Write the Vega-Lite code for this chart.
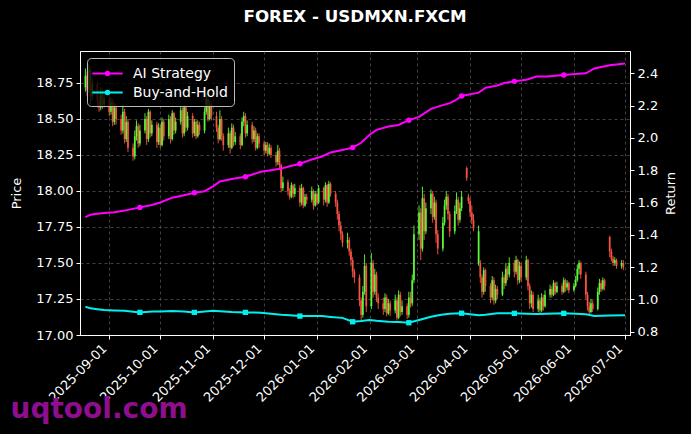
{
  "$schema": "https://vega.github.io/schema/vega-lite/v6.json",
  "autosize": {"type": "none"},
  "padding": {"left": 80, "top": 51, "right": 61, "bottom": 99},
  "width": 550,
  "height": 284,
  "background": "black",
  "title": {
    "text": "FOREX - USDMXN.FXCM",
    "color": "white",
    "font": "DejaVu Sans",
    "fontSize": 16.7,
    "fontWeight": "bold",
    "baseline": "alphabetic",
    "offset": 12
  },
  "config": {
    "view": {"stroke": "white", "strokeWidth": 1},
    "font": "DejaVu Sans",
    "axis": {
      "labelColor": "white",
      "titleColor": "white",
      "domainColor": "white",
      "tickColor": "white",
      "labelFontSize": 13,
      "titleFontSize": 13,
      "titleFontWeight": "normal",
      "labelFont": "DejaVu Sans",
      "titleFont": "DejaVu Sans",
      "gridColor": "#6a6a6a",
      "gridDash": [3, 3],
      "gridOpacity": 0.6,
      "tickSize": 4,
      "labelPadding": 3
    }
  },
  "datasets": {
    "px": [
      {"d":"2025-08-18","o":18.72,"h":18.85,"l":18.69,"c":18.80},
      {"d":"2025-08-19","o":18.80,"h":18.83,"l":18.66,"c":18.70},
      {"d":"2025-08-20","o":18.70,"h":18.88,"l":18.68,"c":18.84},
      {"d":"2025-08-21","o":18.84,"h":18.86,"l":18.60,"c":18.66},
      {"d":"2025-08-22","o":18.66,"h":18.78,"l":18.63,"c":18.74},
      {"d":"2025-08-25","o":18.74,"h":18.76,"l":18.58,"c":18.62},
      {"d":"2025-08-26","o":18.62,"h":18.66,"l":18.55,"c":18.58},
      {"d":"2025-08-27","o":18.58,"h":18.72,"l":18.56,"c":18.68},
      {"d":"2025-08-28","o":18.68,"h":18.71,"l":18.57,"c":18.60},
      {"d":"2025-08-29","o":18.60,"h":18.68,"l":18.58,"c":18.64},
      {"d":"2025-09-01","o":18.64,"h":18.67,"l":18.52,"c":18.55},
      {"d":"2025-09-02","o":18.55,"h":18.65,"l":18.53,"c":18.62},
      {"d":"2025-09-03","o":18.62,"h":18.64,"l":18.45,"c":18.48},
      {"d":"2025-09-04","o":18.48,"h":18.61,"l":18.46,"c":18.58},
      {"d":"2025-09-05","o":18.58,"h":18.60,"l":18.46,"c":18.50},
      {"d":"2025-09-08","o":18.50,"h":18.53,"l":18.39,"c":18.42},
      {"d":"2025-09-09","o":18.42,"h":18.60,"l":18.40,"c":18.55},
      {"d":"2025-09-10","o":18.55,"h":18.57,"l":18.33,"c":18.36},
      {"d":"2025-09-11","o":18.36,"h":18.52,"l":18.34,"c":18.48},
      {"d":"2025-09-12","o":18.48,"h":18.50,"l":18.27,"c":18.30},
      {"d":"2025-09-15","o":18.30,"h":18.33,"l":18.21,"c":18.24},
      {"d":"2025-09-16","o":18.24,"h":18.42,"l":18.22,"c":18.38},
      {"d":"2025-09-17","o":18.38,"h":18.49,"l":18.35,"c":18.45},
      {"d":"2025-09-18","o":18.45,"h":18.47,"l":18.30,"c":18.33},
      {"d":"2025-09-19","o":18.33,"h":18.46,"l":18.31,"c":18.42},
      {"d":"2025-09-22","o":18.42,"h":18.54,"l":18.40,"c":18.50},
      {"d":"2025-09-23","o":18.50,"h":18.52,"l":18.32,"c":18.36},
      {"d":"2025-09-24","o":18.36,"h":18.57,"l":18.34,"c":18.55},
      {"d":"2025-09-25","o":18.55,"h":18.56,"l":18.37,"c":18.40},
      {"d":"2025-09-26","o":18.40,"h":18.49,"l":18.38,"c":18.46},
      {"d":"2025-09-29","o":18.46,"h":18.48,"l":18.30,"c":18.34},
      {"d":"2025-09-30","o":18.34,"h":18.47,"l":18.32,"c":18.44},
      {"d":"2025-10-01","o":18.44,"h":18.46,"l":18.30,"c":18.32},
      {"d":"2025-10-02","o":18.32,"h":18.51,"l":18.31,"c":18.48},
      {"d":"2025-10-03","o":18.48,"h":18.50,"l":18.35,"c":18.38},
      {"d":"2025-10-06","o":18.38,"h":18.53,"l":18.36,"c":18.50},
      {"d":"2025-10-07","o":18.50,"h":18.52,"l":18.33,"c":18.36},
      {"d":"2025-10-08","o":18.36,"h":18.56,"l":18.35,"c":18.54},
      {"d":"2025-10-09","o":18.54,"h":18.55,"l":18.39,"c":18.42},
      {"d":"2025-10-10","o":18.42,"h":18.51,"l":18.40,"c":18.48},
      {"d":"2025-10-13","o":18.48,"h":18.59,"l":18.46,"c":18.56},
      {"d":"2025-10-14","o":18.56,"h":18.58,"l":18.37,"c":18.40},
      {"d":"2025-10-15","o":18.40,"h":18.60,"l":18.38,"c":18.58},
      {"d":"2025-10-16","o":18.58,"h":18.59,"l":18.41,"c":18.44},
      {"d":"2025-10-17","o":18.44,"h":18.55,"l":18.42,"c":18.52},
      {"d":"2025-10-20","o":18.52,"h":18.54,"l":18.37,"c":18.40},
      {"d":"2025-10-21","o":18.40,"h":18.50,"l":18.38,"c":18.48},
      {"d":"2025-10-22","o":18.48,"h":18.49,"l":18.36,"c":18.38},
      {"d":"2025-10-23","o":18.38,"h":18.49,"l":18.37,"c":18.46},
      {"d":"2025-10-24","o":18.46,"h":18.48,"l":18.39,"c":18.42},
      {"d":"2025-10-27","o":18.42,"h":18.58,"l":18.40,"c":18.55},
      {"d":"2025-10-28","o":18.55,"h":18.68,"l":18.53,"c":18.64},
      {"d":"2025-10-29","o":18.64,"h":18.66,"l":18.48,"c":18.50},
      {"d":"2025-10-30","o":18.50,"h":18.63,"l":18.49,"c":18.60},
      {"d":"2025-10-31","o":18.60,"h":18.62,"l":18.49,"c":18.52},
      {"d":"2025-11-03","o":18.52,"h":18.55,"l":18.41,"c":18.44},
      {"d":"2025-11-04","o":18.44,"h":18.46,"l":18.33,"c":18.36},
      {"d":"2025-11-05","o":18.36,"h":18.56,"l":18.35,"c":18.50},
      {"d":"2025-11-06","o":18.50,"h":18.52,"l":18.35,"c":18.38},
      {"d":"2025-11-07","o":18.38,"h":18.40,"l":18.28,"c":18.32},
      {"d":"2025-11-10","o":18.32,"h":18.44,"l":18.30,"c":18.40},
      {"d":"2025-11-11","o":18.40,"h":18.42,"l":18.26,"c":18.30},
      {"d":"2025-11-12","o":18.30,"h":18.47,"l":18.29,"c":18.44},
      {"d":"2025-11-13","o":18.44,"h":18.46,"l":18.31,"c":18.34},
      {"d":"2025-11-14","o":18.34,"h":18.41,"l":18.32,"c":18.38},
      {"d":"2025-11-17","o":18.38,"h":18.40,"l":18.29,"c":18.32},
      {"d":"2025-11-18","o":18.32,"h":18.51,"l":18.31,"c":18.48},
      {"d":"2025-11-19","o":18.48,"h":18.55,"l":18.45,"c":18.52},
      {"d":"2025-11-20","o":18.52,"h":18.54,"l":18.37,"c":18.40},
      {"d":"2025-11-21","o":18.40,"h":18.49,"l":18.38,"c":18.46},
      {"d":"2025-11-24","o":18.46,"h":18.48,"l":18.33,"c":18.36},
      {"d":"2025-11-25","o":18.36,"h":18.45,"l":18.34,"c":18.42},
      {"d":"2025-11-26","o":18.42,"h":18.44,"l":18.28,"c":18.30},
      {"d":"2025-11-27","o":18.30,"h":18.40,"l":18.29,"c":18.38},
      {"d":"2025-11-28","o":18.38,"h":18.40,"l":18.30,"c":18.33},
      {"d":"2025-12-01","o":18.33,"h":18.35,"l":18.25,"c":18.28},
      {"d":"2025-12-02","o":18.28,"h":18.34,"l":18.26,"c":18.32},
      {"d":"2025-12-03","o":18.32,"h":18.34,"l":18.24,"c":18.26},
      {"d":"2025-12-04","o":18.26,"h":18.33,"l":18.25,"c":18.30},
      {"d":"2025-12-05","o":18.30,"h":18.32,"l":18.23,"c":18.25},
      {"d":"2025-12-08","o":18.25,"h":18.27,"l":18.17,"c":18.20},
      {"d":"2025-12-09","o":18.20,"h":18.32,"l":18.18,"c":18.28},
      {"d":"2025-12-10","o":18.28,"h":18.30,"l":18.16,"c":18.18},
      {"d":"2025-12-11","o":18.18,"h":18.19,"l":17.99,"c":18.02},
      {"d":"2025-12-12","o":18.02,"h":18.10,"l":18.00,"c":18.06},
      {"d":"2025-12-15","o":18.06,"h":18.08,"l":17.97,"c":18.00},
      {"d":"2025-12-16","o":18.00,"h":18.02,"l":17.94,"c":17.96},
      {"d":"2025-12-17","o":17.96,"h":18.06,"l":17.95,"c":18.04},
      {"d":"2025-12-18","o":18.04,"h":18.05,"l":17.95,"c":17.98},
      {"d":"2025-12-19","o":17.98,"h":18.05,"l":17.96,"c":18.02},
      {"d":"2025-12-22","o":18.02,"h":18.04,"l":17.89,"c":17.92},
      {"d":"2025-12-23","o":17.92,"h":18.05,"l":17.90,"c":18.02},
      {"d":"2025-12-24","o":18.02,"h":18.03,"l":17.88,"c":17.90},
      {"d":"2025-12-25","o":17.90,"h":17.98,"l":17.89,"c":17.96},
      {"d":"2025-12-26","o":17.96,"h":17.98,"l":17.91,"c":17.94},
      {"d":"2025-12-29","o":17.94,"h":18.03,"l":17.92,"c":18.00},
      {"d":"2025-12-30","o":18.00,"h":18.01,"l":17.87,"c":17.90},
      {"d":"2025-12-31","o":17.90,"h":18.00,"l":17.89,"c":17.98},
      {"d":"2026-01-01","o":17.98,"h":17.99,"l":17.90,"c":17.92},
      {"d":"2026-01-02","o":17.92,"h":18.04,"l":17.91,"c":18.02},
      {"d":"2026-01-05","o":18.02,"h":18.03,"l":17.90,"c":17.94},
      {"d":"2026-01-06","o":17.94,"h":18.06,"l":17.92,"c":18.04},
      {"d":"2026-01-07","o":18.04,"h":18.05,"l":17.89,"c":17.92},
      {"d":"2026-01-08","o":17.92,"h":18.07,"l":17.91,"c":18.05},
      {"d":"2026-01-09","o":18.05,"h":18.06,"l":17.96,"c":17.98},
      {"d":"2026-01-12","o":17.98,"h":18.00,"l":17.89,"c":17.92},
      {"d":"2026-01-13","o":17.92,"h":17.94,"l":17.80,"c":17.84},
      {"d":"2026-01-14","o":17.84,"h":17.86,"l":17.72,"c":17.76},
      {"d":"2026-01-15","o":17.76,"h":17.79,"l":17.66,"c":17.70},
      {"d":"2026-01-16","o":17.70,"h":17.72,"l":17.61,"c":17.64},
      {"d":"2026-01-19","o":17.64,"h":17.71,"l":17.60,"c":17.66},
      {"d":"2026-01-20","o":17.66,"h":17.68,"l":17.55,"c":17.58},
      {"d":"2026-01-21","o":17.58,"h":17.60,"l":17.48,"c":17.52},
      {"d":"2026-01-22","o":17.52,"h":17.54,"l":17.40,"c":17.44},
      {"d":"2026-01-23","o":17.44,"h":17.46,"l":17.36,"c":17.40},
      {"d":"2026-01-26","o":17.40,"h":17.42,"l":17.20,"c":17.24},
      {"d":"2026-01-27","o":17.24,"h":17.26,"l":17.10,"c":17.14},
      {"d":"2026-01-28","o":17.14,"h":17.34,"l":17.12,"c":17.30},
      {"d":"2026-01-29","o":17.30,"h":17.56,"l":17.28,"c":17.48},
      {"d":"2026-01-30","o":17.48,"h":17.50,"l":17.16,"c":17.20},
      {"d":"2026-02-02","o":17.20,"h":17.57,"l":17.18,"c":17.50},
      {"d":"2026-02-03","o":17.50,"h":17.52,"l":17.26,"c":17.30},
      {"d":"2026-02-04","o":17.30,"h":17.46,"l":17.28,"c":17.42},
      {"d":"2026-02-05","o":17.42,"h":17.44,"l":17.23,"c":17.26},
      {"d":"2026-02-06","o":17.26,"h":17.29,"l":17.18,"c":17.22},
      {"d":"2026-02-09","o":17.22,"h":17.26,"l":17.14,"c":17.18},
      {"d":"2026-02-10","o":17.18,"h":17.29,"l":17.16,"c":17.26},
      {"d":"2026-02-11","o":17.26,"h":17.28,"l":17.13,"c":17.15},
      {"d":"2026-02-12","o":17.15,"h":17.25,"l":17.14,"c":17.22},
      {"d":"2026-02-13","o":17.22,"h":17.24,"l":17.13,"c":17.17},
      {"d":"2026-02-16","o":17.17,"h":17.28,"l":17.15,"c":17.24},
      {"d":"2026-02-17","o":17.24,"h":17.26,"l":17.10,"c":17.12},
      {"d":"2026-02-18","o":17.12,"h":17.31,"l":17.11,"c":17.28},
      {"d":"2026-02-19","o":17.28,"h":17.30,"l":17.13,"c":17.16},
      {"d":"2026-02-20","o":17.16,"h":17.24,"l":17.14,"c":17.20},
      {"d":"2026-02-23","o":17.20,"h":17.22,"l":17.11,"c":17.14},
      {"d":"2026-02-24","o":17.14,"h":17.30,"l":17.12,"c":17.26},
      {"d":"2026-02-25","o":17.26,"h":17.30,"l":17.19,"c":17.22},
      {"d":"2026-02-26","o":17.22,"h":17.42,"l":17.20,"c":17.38},
      {"d":"2026-02-27","o":17.38,"h":17.76,"l":17.36,"c":17.70},
      {"d":"2026-03-02","o":17.70,"h":17.90,"l":17.66,"c":17.85},
      {"d":"2026-03-03","o":17.85,"h":17.88,"l":17.52,"c":17.60},
      {"d":"2026-03-04","o":17.60,"h":18.03,"l":17.58,"c":17.95},
      {"d":"2026-03-05","o":17.95,"h":17.98,"l":17.66,"c":17.72},
      {"d":"2026-03-06","o":17.72,"h":17.92,"l":17.70,"c":17.88},
      {"d":"2026-03-09","o":17.88,"h":18.01,"l":17.84,"c":17.98},
      {"d":"2026-03-10","o":17.98,"h":18.00,"l":17.78,"c":17.82},
      {"d":"2026-03-11","o":17.82,"h":17.96,"l":17.80,"c":17.92},
      {"d":"2026-03-12","o":17.92,"h":17.94,"l":17.64,"c":17.70},
      {"d":"2026-03-13","o":17.70,"h":17.73,"l":17.56,"c":17.60},
      {"d":"2026-03-16","o":17.60,"h":17.82,"l":17.58,"c":17.78},
      {"d":"2026-03-17","o":17.78,"h":17.94,"l":17.76,"c":17.90},
      {"d":"2026-03-18","o":17.90,"h":18.00,"l":17.87,"c":17.96},
      {"d":"2026-03-19","o":17.96,"h":17.98,"l":17.80,"c":17.84},
      {"d":"2026-03-20","o":17.84,"h":17.86,"l":17.68,"c":17.72},
      {"d":"2026-03-23","o":17.72,"h":17.90,"l":17.70,"c":17.86},
      {"d":"2026-03-24","o":17.86,"h":17.99,"l":17.84,"c":17.94},
      {"d":"2026-03-25","o":17.94,"h":17.96,"l":17.76,"c":17.80},
      {"d":"2026-03-26","o":17.80,"h":17.92,"l":17.78,"c":17.88},
      {"d":"2026-03-27","o":17.88,"h":18.00,"l":17.86,"c":17.96},
      {"d":"2026-03-30","o":18.16,"h":18.17,"l":18.07,"c":18.09},
      {"d":"2026-03-31","o":17.96,"h":17.98,"l":17.91,"c":17.93},
      {"d":"2026-04-01","o":17.93,"h":17.95,"l":17.82,"c":17.85},
      {"d":"2026-04-02","o":17.85,"h":17.90,"l":17.77,"c":17.80},
      {"d":"2026-04-03","o":17.80,"h":17.84,"l":17.72,"c":17.74},
      {"d":"2026-04-06","o":17.50,"h":17.76,"l":17.48,"c":17.72},
      {"d":"2026-04-07","o":17.50,"h":17.52,"l":17.36,"c":17.40},
      {"d":"2026-04-08","o":17.40,"h":17.42,"l":17.26,"c":17.30},
      {"d":"2026-04-09","o":17.30,"h":17.47,"l":17.28,"c":17.45},
      {"d":"2026-04-10","o":17.45,"h":17.46,"l":17.30,"c":17.34},
      {"d":"2026-04-13","o":17.34,"h":17.36,"l":17.22,"c":17.26},
      {"d":"2026-04-14","o":17.26,"h":17.41,"l":17.24,"c":17.38},
      {"d":"2026-04-15","o":17.38,"h":17.40,"l":17.21,"c":17.24},
      {"d":"2026-04-16","o":17.24,"h":17.35,"l":17.22,"c":17.32},
      {"d":"2026-04-17","o":17.32,"h":17.34,"l":17.25,"c":17.28},
      {"d":"2026-04-20","o":17.28,"h":17.44,"l":17.27,"c":17.40},
      {"d":"2026-04-21","o":17.40,"h":17.42,"l":17.32,"c":17.36},
      {"d":"2026-04-22","o":17.36,"h":17.50,"l":17.34,"c":17.46},
      {"d":"2026-04-23","o":17.46,"h":17.48,"l":17.38,"c":17.42},
      {"d":"2026-04-24","o":17.42,"h":17.54,"l":17.40,"c":17.50},
      {"d":"2026-04-27","o":17.50,"h":17.52,"l":17.40,"c":17.44},
      {"d":"2026-04-28","o":17.44,"h":17.55,"l":17.42,"c":17.52},
      {"d":"2026-04-29","o":17.52,"h":17.53,"l":17.35,"c":17.38},
      {"d":"2026-04-30","o":17.38,"h":17.51,"l":17.36,"c":17.48},
      {"d":"2026-05-01","o":17.48,"h":17.50,"l":17.37,"c":17.40},
      {"d":"2026-05-04","o":17.40,"h":17.55,"l":17.38,"c":17.52},
      {"d":"2026-05-05","o":17.52,"h":17.53,"l":17.31,"c":17.34},
      {"d":"2026-05-06","o":17.34,"h":17.36,"l":17.18,"c":17.22},
      {"d":"2026-05-07","o":17.22,"h":17.31,"l":17.19,"c":17.28},
      {"d":"2026-05-08","o":17.28,"h":17.30,"l":17.16,"c":17.18},
      {"d":"2026-05-11","o":17.18,"h":17.28,"l":17.16,"c":17.24},
      {"d":"2026-05-12","o":17.24,"h":17.26,"l":17.15,"c":17.17},
      {"d":"2026-05-13","o":17.17,"h":17.29,"l":17.16,"c":17.26},
      {"d":"2026-05-14","o":17.26,"h":17.28,"l":17.17,"c":17.20},
      {"d":"2026-05-15","o":17.20,"h":17.31,"l":17.19,"c":17.28},
      {"d":"2026-05-18","o":17.28,"h":17.35,"l":17.26,"c":17.32},
      {"d":"2026-05-19","o":17.32,"h":17.34,"l":17.26,"c":17.28},
      {"d":"2026-05-20","o":17.28,"h":17.38,"l":17.27,"c":17.36},
      {"d":"2026-05-21","o":17.36,"h":17.37,"l":17.28,"c":17.30},
      {"d":"2026-05-22","o":17.30,"h":17.37,"l":17.29,"c":17.34},
      {"d":"2026-05-25","o":17.34,"h":17.36,"l":17.28,"c":17.30},
      {"d":"2026-05-26","o":17.30,"h":17.40,"l":17.29,"c":17.38},
      {"d":"2026-05-27","o":17.38,"h":17.39,"l":17.30,"c":17.33},
      {"d":"2026-05-28","o":17.33,"h":17.38,"l":17.31,"c":17.36},
      {"d":"2026-05-29","o":17.36,"h":17.37,"l":17.29,"c":17.31},
      {"d":"2026-06-01","o":17.31,"h":17.36,"l":17.30,"c":17.34},
      {"d":"2026-06-02","o":17.34,"h":17.41,"l":17.33,"c":17.38},
      {"d":"2026-06-03","o":17.38,"h":17.49,"l":17.37,"c":17.46},
      {"d":"2026-06-04","o":17.46,"h":17.52,"l":17.42,"c":17.50},
      {"d":"2026-06-05","o":17.50,"h":17.51,"l":17.39,"c":17.42},
      {"d":"2026-06-08","o":17.42,"h":17.44,"l":17.25,"c":17.28},
      {"d":"2026-06-09","o":17.28,"h":17.30,"l":17.17,"c":17.20},
      {"d":"2026-06-10","o":17.20,"h":17.23,"l":17.14,"c":17.16},
      {"d":"2026-06-11","o":17.16,"h":17.25,"l":17.15,"c":17.22},
      {"d":"2026-06-12","o":17.22,"h":17.24,"l":17.16,"c":17.18},
      {"d":"2026-06-15","o":17.18,"h":17.33,"l":17.17,"c":17.30},
      {"d":"2026-06-16","o":17.30,"h":17.39,"l":17.28,"c":17.36},
      {"d":"2026-06-17","o":17.36,"h":17.38,"l":17.30,"c":17.32},
      {"d":"2026-06-18","o":17.32,"h":17.40,"l":17.31,"c":17.38},
      {"d":"2026-06-19","o":17.38,"h":17.39,"l":17.31,"c":17.34},
      {"d":"2026-06-22","o":17.68,"h":17.69,"l":17.54,"c":17.58},
      {"d":"2026-06-23","o":17.58,"h":17.60,"l":17.51,"c":17.53},
      {"d":"2026-06-24","o":17.53,"h":17.55,"l":17.48,"c":17.50},
      {"d":"2026-06-25","o":17.50,"h":17.54,"l":17.48,"c":17.52},
      {"d":"2026-06-26","o":17.52,"h":17.53,"l":17.46,"c":17.48},
      {"d":"2026-06-29","o":17.48,"h":17.52,"l":17.46,"c":17.50},
      {"d":"2026-06-30","o":17.50,"h":17.52,"l":17.45,"c":17.47}
    ],
    "ret": [
      {"d":"2025-08-18","AI Strategy":1.51,"Buy-and-Hold":0.955},
      {"d":"2025-08-21","AI Strategy":1.525,"Buy-and-Hold":0.945},
      {"d":"2025-08-25","AI Strategy":1.53,"Buy-and-Hold":0.94},
      {"d":"2025-08-29","AI Strategy":1.535,"Buy-and-Hold":0.935},
      {"d":"2025-09-04","AI Strategy":1.54,"Buy-and-Hold":0.932},
      {"d":"2025-09-10","AI Strategy":1.55,"Buy-and-Hold":0.93},
      {"d":"2025-09-19","AI Strategy":1.57,"Buy-and-Hold":0.92},
      {"d":"2025-09-26","AI Strategy":1.585,"Buy-and-Hold":0.925},
      {"d":"2025-10-01","AI Strategy":1.60,"Buy-and-Hold":0.926},
      {"d":"2025-10-08","AI Strategy":1.63,"Buy-and-Hold":0.928},
      {"d":"2025-10-15","AI Strategy":1.645,"Buy-and-Hold":0.925},
      {"d":"2025-10-21","AI Strategy":1.66,"Buy-and-Hold":0.92},
      {"d":"2025-10-27","AI Strategy":1.67,"Buy-and-Hold":0.925},
      {"d":"2025-11-01","AI Strategy":1.70,"Buy-and-Hold":0.93},
      {"d":"2025-11-05","AI Strategy":1.73,"Buy-and-Hold":0.927},
      {"d":"2025-11-12","AI Strategy":1.745,"Buy-and-Hold":0.922},
      {"d":"2025-11-20","AI Strategy":1.76,"Buy-and-Hold":0.92},
      {"d":"2025-11-29","AI Strategy":1.79,"Buy-and-Hold":0.918},
      {"d":"2025-12-05","AI Strategy":1.80,"Buy-and-Hold":0.912},
      {"d":"2025-12-11","AI Strategy":1.81,"Buy-and-Hold":0.905},
      {"d":"2025-12-16","AI Strategy":1.825,"Buy-and-Hold":0.902},
      {"d":"2025-12-22","AI Strategy":1.84,"Buy-and-Hold":0.897},
      {"d":"2025-12-30","AI Strategy":1.87,"Buy-and-Hold":0.897},
      {"d":"2026-01-04","AI Strategy":1.885,"Buy-and-Hold":0.897},
      {"d":"2026-01-09","AI Strategy":1.91,"Buy-and-Hold":0.892},
      {"d":"2026-01-16","AI Strategy":1.925,"Buy-and-Hold":0.886},
      {"d":"2026-01-22","AI Strategy":1.94,"Buy-and-Hold":0.862},
      {"d":"2026-01-27","AI Strategy":1.97,"Buy-and-Hold":0.866},
      {"d":"2026-02-01","AI Strategy":2.02,"Buy-and-Hold":0.873},
      {"d":"2026-02-05","AI Strategy":2.05,"Buy-and-Hold":0.868},
      {"d":"2026-02-12","AI Strategy":2.07,"Buy-and-Hold":0.862},
      {"d":"2026-02-18","AI Strategy":2.08,"Buy-and-Hold":0.86},
      {"d":"2026-02-24","AI Strategy":2.11,"Buy-and-Hold":0.856},
      {"d":"2026-03-02","AI Strategy":2.13,"Buy-and-Hold":0.873},
      {"d":"2026-03-09","AI Strategy":2.18,"Buy-and-Hold":0.893},
      {"d":"2026-03-15","AI Strategy":2.20,"Buy-and-Hold":0.905},
      {"d":"2026-03-20","AI Strategy":2.215,"Buy-and-Hold":0.912},
      {"d":"2026-03-23","AI Strategy":2.23,"Buy-and-Hold":0.913},
      {"d":"2026-03-27","AI Strategy":2.26,"Buy-and-Hold":0.915},
      {"d":"2026-04-06","AI Strategy":2.28,"Buy-and-Hold":0.903},
      {"d":"2026-04-10","AI Strategy":2.31,"Buy-and-Hold":0.905},
      {"d":"2026-04-17","AI Strategy":2.325,"Buy-and-Hold":0.914},
      {"d":"2026-04-21","AI Strategy":2.34,"Buy-and-Hold":0.914},
      {"d":"2026-04-27","AI Strategy":2.35,"Buy-and-Hold":0.914},
      {"d":"2026-05-04","AI Strategy":2.36,"Buy-and-Hold":0.912},
      {"d":"2026-05-10","AI Strategy":2.38,"Buy-and-Hold":0.91},
      {"d":"2026-05-16","AI Strategy":2.38,"Buy-and-Hold":0.912},
      {"d":"2026-05-26","AI Strategy":2.39,"Buy-and-Hold":0.914},
      {"d":"2026-06-02","AI Strategy":2.395,"Buy-and-Hold":0.912},
      {"d":"2026-06-08","AI Strategy":2.40,"Buy-and-Hold":0.908},
      {"d":"2026-06-13","AI Strategy":2.43,"Buy-and-Hold":0.897},
      {"d":"2026-06-22","AI Strategy":2.45,"Buy-and-Hold":0.90},
      {"d":"2026-07-01","AI Strategy":2.46,"Buy-and-Hold":0.903}
    ]
  },
  "encoding": {
    "x": {
      "field": "d",
      "type": "temporal",
      "scale": {
        "type": "utc",
        "domain": [
          {"year": 2025, "month": 8, "date": 17, "hours": 18, "utc": true},
          {"year": 2026, "month": 7, "date": 1, "utc": true}
        ]
      },
      "axis": {
        "format": "%Y-%m-%d",
        "labelAngle": -45,
        "labelAlign": "right",
        "labelBaseline": "bottom",
        "labelPadding": 12,
        "labelFlush": false,
        "labelOverlap": false,
        "labelBound": false,
        "tickCount": {"interval": "month", "step": 1},
        "grid": true,
        "title": "uqtool.com",
        "titleColor": "#8e0e8e",
        "titleFontSize": 28,
        "titleFontWeight": "bold",
        "titleAnchor": "start",
        "titleAlign": "left",
        "titleBaseline": "alphabetic",
        "titleX": -70,
        "titleY": 82
      }
    }
  },
  "layer": [
    {
      "data": {"name": "px"},
      "layer": [
        {
          "mark": {"type": "rule", "strokeWidth": 1, "opacity": 0.9, "clip": true},
          "encoding": {
            "y": {
              "field": "l",
              "type": "quantitative",
              "scale": {"domain": [17.0, 18.972], "zero": false, "nice": false},
              "axis": {"title": "Price", "values": [17.0, 17.25, 17.5, 17.75, 18.0, 18.25, 18.5, 18.75], "format": ".2f", "grid": true, "titlePadding": 12}
            },
            "y2": {"field": "h"},
            "color": {"condition": {"test": "datum.c >= datum.o", "value": "#5cff3c"}, "value": "#ff5544"}
          }
        },
        {
          "mark": {"type": "bar", "width": 1.8, "opacity": 0.9, "clip": true},
          "encoding": {
            "y": {"field": "o", "type": "quantitative", "axis": {"title": "Price"}},
            "y2": {"field": "c"},
            "color": {"condition": {"test": "datum.c >= datum.o", "value": "#5cff3c"}, "value": "#ff5544"}
          }
        }
      ]
    },
    {
      "data": {"name": "ret"},
      "transform": [{"fold": ["AI Strategy", "Buy-and-Hold"], "as": ["s", "r"]}],
      "encoding": {
        "y": {
          "field": "r",
          "type": "quantitative",
          "scale": {"domain": [0.78, 2.538], "zero": false, "nice": false},
          "axis": {"orient": "right", "title": "Return", "titleAngle": 270, "titleBaseline": "top", "values": [0.8, 1.0, 1.2, 1.4, 1.6, 1.8, 2.0, 2.2, 2.4], "format": ".1f", "grid": false, "titlePadding": 7}
        },
        "color": {
          "field": "s",
          "type": "nominal",
          "scale": {"domain": ["AI Strategy", "Buy-and-Hold"], "range": ["#ff00ff", "#00f0f0"]},
          "legend": {
            "title": null,
            "orient": "top-left",
            "offset": 7,
            "fillColor": "rgba(0,0,0,0.8)",
            "strokeColor": "#bbbbbb",
            "cornerRadius": 4,
            "padding": 6,
            "labelColor": "white",
            "labelFontSize": 14,
            "labelFont": "DejaVu Sans",
            "symbolOffset": 5,
            "labelOffset": 16,
            "rowPadding": 2,
            "symbolType": "M-1.9,0L1.9,0M-0.2,0A0.2,0.2,0,1,0,0.2,0A0.2,0.2,0,1,0,-0.2,0",
            "symbolSize": 256,
            "symbolStrokeWidth": 2.2
          }
        }
      },
      "layer": [
        {"mark": {"type": "line", "strokeWidth": 2, "clip": true}},
        {
          "transform": [
            {"filter": "datum.s == 'AI Strategy'"},
            {"filter": "indexof(['2025-09-19','2025-10-21','2025-11-20','2025-12-22','2026-01-22','2026-02-24','2026-03-27','2026-04-27','2026-05-26'], utcFormat(datum.d, '%Y-%m-%d')) >= 0"}
          ],
          "mark": {"type": "point", "shape": "circle", "filled": true, "size": 30, "opacity": 1, "clip": true}
        },
        {
          "transform": [
            {"filter": "datum.s == 'Buy-and-Hold'"},
            {"filter": "indexof(['2025-09-19','2025-10-21','2025-11-20','2025-12-22','2026-01-22','2026-02-24','2026-03-27','2026-04-27','2026-05-26'], utcFormat(datum.d, '%Y-%m-%d')) >= 0"}
          ],
          "mark": {"type": "point", "shape": "square", "filled": true, "size": 28, "opacity": 1, "clip": true}
        }
      ]
    }
  ],
  "resolve": {"scale": {"y": "independent"}}
}
